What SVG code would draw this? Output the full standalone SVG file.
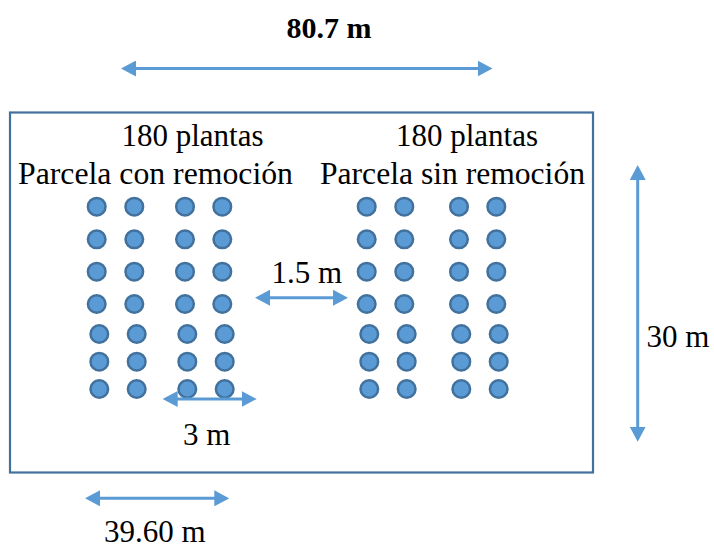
<svg xmlns="http://www.w3.org/2000/svg" width="714" height="549" viewBox="0 0 714 549">
<style>
text{font-family:"Liberation Serif","Times New Roman",serif;font-size:31px;fill:#000}
.b{font-weight:bold;font-size:30px}
.p{fill:#5B9BD5;stroke:#41719C;stroke-width:2.5}
.a{stroke:#5B9BD5;stroke-width:3;fill:none;marker-start:url(#ah);marker-end:url(#ah)}
</style>
<defs>
<marker id="ah" viewBox="0 0 15 16" refX="5" refY="8" markerWidth="15" markerHeight="16" markerUnits="userSpaceOnUse" orient="auto-start-reverse">
<path d="M0,0 L15,8 L0,16 z" fill="#5B9BD5"/>
</marker>
<circle id="c" r="8.8" class="p"/>
</defs>
<rect id="field" x="10" y="112.5" width="583" height="360" fill="#fff" stroke="#41719C" stroke-width="2.2"/>
<g id="plot-left">
<text x="121.5" y="146">180 plantas</text>
<text x="18" y="183.5" textLength="275" lengthAdjust="spacingAndGlyphs">Parcela con remoción</text>
<g id="plants-left">
<use href="#c" x="96.7" y="206.7"/><use href="#c" x="134.3" y="206.7"/><use href="#c" x="185" y="206.7"/><use href="#c" x="222.3" y="206.7"/>
<use href="#c" x="96.7" y="239.3"/><use href="#c" x="134.3" y="239.3"/><use href="#c" x="185" y="239.3"/><use href="#c" x="222.3" y="239.3"/>
<use href="#c" x="96.7" y="271.7"/><use href="#c" x="134.3" y="271.7"/><use href="#c" x="185" y="271.7"/><use href="#c" x="222.3" y="271.7"/>
<use href="#c" x="96.7" y="304"/><use href="#c" x="134.3" y="304"/><use href="#c" x="185" y="304"/><use href="#c" x="222.3" y="304"/>
<use href="#c" x="99.3" y="334"/><use href="#c" x="136.7" y="334"/><use href="#c" x="187.3" y="334"/><use href="#c" x="224.7" y="334"/>
<use href="#c" x="99.3" y="361.7"/><use href="#c" x="136.7" y="361.7"/><use href="#c" x="187.3" y="361.7"/><use href="#c" x="224.7" y="361.7"/>
<use href="#c" x="99.3" y="389"/><use href="#c" x="136.7" y="389"/><use href="#c" x="187.3" y="389"/><use href="#c" x="224.7" y="389"/>
</g>
</g>
<g id="plot-right">
<text x="396" y="146">180 plantas</text>
<text x="320" y="183.5" textLength="265" lengthAdjust="spacingAndGlyphs">Parcela sin remoción</text>
<g id="plants-right">
<use href="#c" x="366.7" y="206.7"/><use href="#c" x="404.3" y="206.7"/><use href="#c" x="459" y="206.7"/><use href="#c" x="496.3" y="206.7"/>
<use href="#c" x="366.7" y="239.3"/><use href="#c" x="404.3" y="239.3"/><use href="#c" x="459" y="239.3"/><use href="#c" x="496.3" y="239.3"/>
<use href="#c" x="366.7" y="271.7"/><use href="#c" x="404.3" y="271.7"/><use href="#c" x="459" y="271.7"/><use href="#c" x="496.3" y="271.7"/>
<use href="#c" x="366.7" y="304"/><use href="#c" x="404.3" y="304"/><use href="#c" x="459" y="304"/><use href="#c" x="496.3" y="304"/>
<use href="#c" x="369.3" y="334"/><use href="#c" x="406.7" y="334"/><use href="#c" x="461.3" y="334"/><use href="#c" x="498.7" y="334"/>
<use href="#c" x="369.3" y="361.7"/><use href="#c" x="406.7" y="361.7"/><use href="#c" x="461.3" y="361.7"/><use href="#c" x="498.7" y="361.7"/>
<use href="#c" x="369.3" y="389"/><use href="#c" x="406.7" y="389"/><use href="#c" x="461.3" y="389"/><use href="#c" x="498.7" y="389"/>
</g>
</g>
<g id="connectors">
<line class="a" x1="131" y1="68.5" x2="482.5" y2="68.5"/>
<line class="a" x1="637.7" y1="175" x2="637.7" y2="431.7"/>
<line class="a" x1="95" y1="498.3" x2="219.3" y2="498.3"/>
<line class="a" x1="265" y1="297.7" x2="338" y2="297.7"/>
<line class="a" x1="172.7" y1="399" x2="246.7" y2="399"/>
</g>
<g id="labels">
<text class="b" x="286.5" y="38.3">80.7 m</text>
<text x="271.5" y="283.3">1.5 m</text>
<text x="183" y="445">3 m</text>
<text x="646.5" y="346.7">30 m</text>
<text x="104" y="542">39.60 m</text>
</g>
</svg>
